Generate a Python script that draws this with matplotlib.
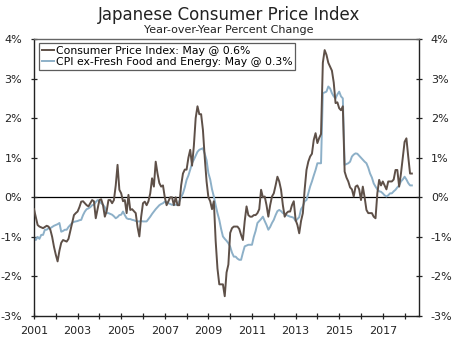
import numpy as np
import matplotlib.pyplot as plt
from matplotlib.ticker import FuncFormatter, MultipleLocator

# Year-over-year % change, monthly, Jan 2001 - May 2018
cpi_headline = [
    -0.3, -0.5, -0.7, -0.74, -0.76, -0.78, -0.75, -0.72, -0.74, -0.82, -1.0, -1.25,   # 2001
    -1.45, -1.62, -1.35, -1.15, -1.08, -1.1, -1.12, -1.05, -0.85, -0.65, -0.45, -0.4,  # 2002
    -0.36, -0.25, -0.11, -0.1, -0.15, -0.2, -0.23, -0.15, -0.07, -0.1, -0.53, -0.3,    # 2003
    -0.07, -0.05, -0.2, -0.49, -0.35, -0.07, -0.07, -0.15, -0.07, 0.3, 0.82, 0.19,     # 2004
    0.1, -0.1, -0.07, -0.4, 0.06, -0.32, -0.3, -0.35, -0.4, -0.75, -0.99, -0.49,       # 2005
    -0.15, -0.11, -0.2, -0.1, 0.1, 0.48, 0.27, 0.9, 0.6, 0.36, 0.27, 0.3,              # 2006
    0.0, -0.2, -0.1, 0.0, 0.0, -0.2, 0.0, -0.2, -0.2, 0.3, 0.6, 0.7,                   # 2007
    0.7, 1.0, 1.2, 0.8, 1.3, 2.0, 2.3, 2.1, 2.1, 1.7, 1.0, 0.4,                        # 2008
    0.0, -0.1, -0.3, -0.1, -1.1, -1.8, -2.2, -2.2, -2.2, -2.5, -1.9, -1.7,             # 2009
    -0.9, -0.78, -0.74, -0.74, -0.74, -0.8, -0.95, -1.08, -0.6, -0.23, -0.45, -0.49,   # 2010
    -0.49, -0.45, -0.45, -0.4, -0.3, 0.19, 0.0, 0.02, -0.2, -0.49, -0.2, 0.02,         # 2011
    0.1, 0.3, 0.52, 0.4, 0.19, -0.2, -0.49, -0.4, -0.36, -0.36, -0.2, -0.1,            # 2012
    -0.57, -0.7, -0.91, -0.6, -0.4, 0.2, 0.69, 0.9, 1.03, 1.1, 1.45, 1.62,             # 2013
    1.37, 1.5, 1.6, 3.4, 3.72, 3.6, 3.4, 3.3, 3.2, 2.9, 2.38, 2.4,                     # 2014
    2.25, 2.2, 2.3, 0.65, 0.5, 0.4, 0.25, 0.2, 0.02, 0.27, 0.3, 0.2,                   # 2015
    -0.07, 0.27, 0.0, -0.32, -0.4, -0.4, -0.4, -0.49, -0.53, 0.1, 0.44, 0.3,           # 2016
    0.4, 0.3, 0.2, 0.4, 0.4, 0.4, 0.45, 0.69, 0.69, 0.27, 0.6, 1.0,                    # 2017
    1.4, 1.49, 1.03, 0.6, 0.6,                                                         # 2018
]

cpi_core = [
    -1.0, -1.08, -1.0, -1.05, -0.95, -0.95, -0.82, -0.82, -0.78, -0.78, -0.75, -0.72,  # 2001
    -0.7, -0.68, -0.65, -0.87, -0.85, -0.82, -0.82, -0.75, -0.7, -0.65, -0.62, -0.61,  # 2002
    -0.6, -0.58, -0.57, -0.45, -0.36, -0.3, -0.28, -0.25, -0.2, -0.19, -0.12, -0.07,   # 2003
    -0.1, -0.15, -0.19, -0.25, -0.4, -0.4, -0.42, -0.44, -0.48, -0.53, -0.5, -0.45,    # 2004
    -0.44, -0.36, -0.45, -0.53, -0.55, -0.55, -0.57, -0.58, -0.6, -0.61, -0.61, -0.6,  # 2005
    -0.61, -0.61, -0.61, -0.55, -0.49, -0.42, -0.36, -0.3, -0.25, -0.2, -0.17, -0.15, # 2006
    -0.11, -0.12, -0.15, -0.17, -0.19, -0.19, -0.19, -0.19, -0.1, 0.0, 0.1, 0.25,      # 2007
    0.44, 0.55, 0.7, 0.86, 0.95, 1.05, 1.15, 1.2, 1.22, 1.24, 1.1, 0.94,               # 2008
    0.61, 0.45, 0.2, 0.02, -0.2, -0.4, -0.57, -0.8, -0.99, -1.05, -1.1, -1.16,         # 2009
    -1.25, -1.4, -1.5, -1.5, -1.55, -1.58, -1.58, -1.4, -1.24, -1.22, -1.2, -1.2,      # 2010
    -1.2, -1.0, -0.85, -0.65, -0.6, -0.55, -0.49, -0.6, -0.7, -0.82, -0.75, -0.65,     # 2011
    -0.57, -0.45, -0.35, -0.32, -0.35, -0.4, -0.42, -0.45, -0.47, -0.49, -0.5, -0.52,  # 2012
    -0.6, -0.55, -0.5, -0.3, -0.23, -0.1, -0.07, 0.1, 0.27, 0.4, 0.55, 0.69,           # 2013
    0.86, 0.86, 0.86, 2.63, 2.65, 2.67, 2.8, 2.75, 2.63, 2.55, 2.5, 2.6,               # 2014
    2.67, 2.55, 2.5, 0.82, 0.84, 0.86, 0.9, 1.03, 1.08, 1.11, 1.1, 1.05,               # 2015
    1.0, 0.95, 0.9, 0.86, 0.75, 0.6, 0.5, 0.35, 0.27, 0.2, 0.15, 0.14,                 # 2016
    0.1, 0.05, 0.02, 0.05, 0.1, 0.1, 0.15, 0.19, 0.25, 0.3, 0.4, 0.45,                 # 2017
    0.52, 0.45, 0.36, 0.3, 0.3,                                                        # 2018
]

year_ticks = [2001, 2003, 2005, 2007, 2009, 2011, 2013, 2015, 2017]
legend_labels = ["Consumer Price Index: May @ 0.6%",
                 "CPI ex-Fresh Food and Energy: May @ 0.3%"]

dates = 2001 + np.arange(len(cpi_headline)) / 12.0

brown = "#5e5048"
blue = "#8db0c8"

fig = plt.figure(figsize=(4.58, 3.44), dpi=100)
ax = fig.add_axes([0.0742, 0.0814, 0.8406, 0.8052])

ax.plot(dates, cpi_headline, color=brown, lw=1.4, label=legend_labels[0], zorder=3)
ax.plot(dates, cpi_core, color=blue, lw=1.4, label=legend_labels[1], zorder=2)
ax.axhline(0, color="black", lw=0.9, zorder=1)

ax.set_xlim(2001, 2018.66)
ax.set_ylim(-3, 4)
ax.set_xticks(year_ticks)
ax.xaxis.set_minor_locator(MultipleLocator(1))
ax.yaxis.set_major_locator(MultipleLocator(1))
ax.yaxis.set_major_formatter(FuncFormatter(lambda v, p: f"{v:.0f}%"))

ax.tick_params(axis="both", which="both", direction="inout", length=5,
               width=0.9, labelsize=8, colors="#222222")
ax.tick_params(axis="y", right=True, labelright=True, pad=6)
ax.tick_params(axis="x", which="minor", length=5)
ax.tick_params(axis="x", pad=5)

for side in ["left", "right", "bottom"]:
    ax.spines[side].set_color("#222222")
    ax.spines[side].set_linewidth(1.0)
ax.spines["top"].set_color("#666666")
ax.spines["top"].set_linewidth(1.0)

leg = ax.legend(loc="upper left", bbox_to_anchor=(0.014, 0.985), fontsize=7.8,
                handlelength=1.1, handletextpad=0.2, borderpad=0.25,
                labelspacing=0.1, fancybox=False, frameon=True, borderaxespad=0)
leg.get_frame().set_edgecolor("#333333")
leg.get_frame().set_linewidth(0.9)

fig.text(0.5, 0.955, "Japanese Consumer Price Index", ha="center", va="center",
         fontsize=12, color="#222222")
fig.text(0.5, 0.912, "Year-over-Year Percent Change", ha="center", va="center",
         fontsize=8, color="#222222")

fig.savefig("out.png", dpi=100)
